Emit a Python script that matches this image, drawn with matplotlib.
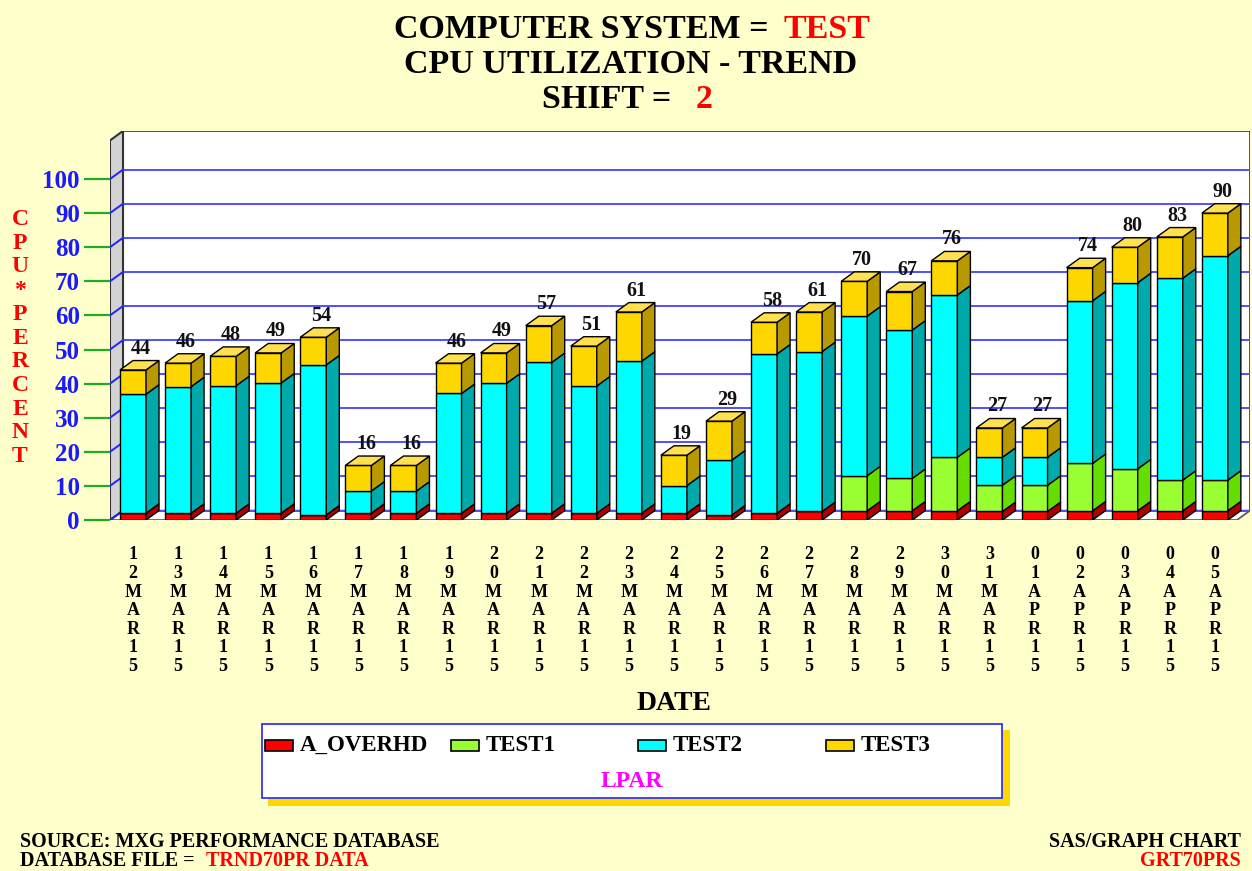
import matplotlib
matplotlib.use("Agg")
import matplotlib.pyplot as plt
from matplotlib.patches import Polygon, Rectangle

# Chart data
dates = ["12MAR15", "13MAR15", "14MAR15", "15MAR15", "16MAR15", "17MAR15", "18MAR15",
         "19MAR15", "20MAR15", "21MAR15", "22MAR15", "23MAR15", "24MAR15", "25MAR15",
         "26MAR15", "27MAR15", "28MAR15", "29MAR15", "30MAR15", "31MAR15", "01APR15",
         "02APR15", "03APR15", "04APR15", "05APR15"]
overhd = [2.0, 2.0, 2.0, 2.0, 1.5, 2.0, 2.0, 2.0, 2.0, 2.0, 2.0, 2.0, 2.0, 1.5,
          2.0, 2.5, 2.7, 2.7, 2.7, 2.5, 2.5, 2.7, 2.7, 2.7, 2.7]
test1 = [0, 0, 0, 0, 0, 0, 0, 0, 0, 0, 0, 0, 0, 0, 0, 0,
         10.3, 9.5, 15.7, 7.7, 7.7, 13.9, 12.3, 9.0, 9.0]
test2 = [34.9, 37.1, 37.4, 38.2, 44.0, 6.5, 6.5, 35.1, 38.1, 44.2, 37.3, 44.6, 8.1,
         16.1, 46.7, 46.9, 46.8, 43.5, 47.6, 8.2, 8.2, 47.7, 54.6, 59.2, 65.8]
test3 = [7.1, 6.9, 8.6, 8.8, 8.1, 7.5, 7.5, 8.9, 8.9, 10.8, 11.7, 14.4, 8.9, 11.4,
         9.3, 11.6, 10.2, 11.3, 10.0, 8.6, 8.6, 9.7, 10.4, 12.1, 12.5]
series_names = ["A_OVERHD", "TEST1", "TEST2", "TEST3"]
yticks = [0, 10, 20, 30, 40, 50, 60, 70, 80, 90, 100]

# colours: front, side, top
colors = [("#FF0000", "#B00000", "#FF5050"),
          ("#99FF33", "#66DD00", "#BBFF77"),
          ("#00FFFF", "#00AAAA", "#80FFFF"),
          ("#FFD700", "#B89A00", "#FFE050")]

BG = "#FFFFCC"
SERIF = "Liberation Serif"
W, H = 1252, 871

fig = plt.figure(figsize=(W / 100, H / 100), dpi=100, facecolor=BG)


def fx(px):
    return px / W


def fy(py):
    return 1 - py / H


# main axes: front plane, value 0 at the front floor edge
ax = fig.add_axes([fx(110), fy(520), fx(1250) - fx(110), fy(131) - fy(520)])
xl, xr = -0.51, 24.78
ytop = 114.08
ax.set_xlim(xl, xr)
ax.set_ylim(0, ytop)
ax.patch.set_visible(False)
for s in ax.spines.values():
    s.set_visible(False)

dx, dy = 0.2885, 2.76   # depth offset in data units
bw = 0.577

# walls
ax.add_patch(Rectangle((xl + dx, dy), xr - xl - dx, ytop - dy, facecolor="white",
                       edgecolor="#333333", lw=1.2, zorder=0))
ax.add_patch(Polygon([(xl, 0), (xr - dx, 0), (xr, dy), (xl + dx, dy)], closed=True,
                     facecolor="white", edgecolor="#555555", lw=1.2, zorder=0.5))
ax.add_patch(Polygon([(xl, 0), (xl, ytop - dy), (xl + dx, ytop), (xl + dx, dy)], closed=True,
                     facecolor="#D3D3D3", edgecolor="#333333", lw=1.5, zorder=0.5))
for v in yticks:
    ax.plot([xl + dx, xr], [v + dy, v + dy], color="#5050FF", lw=1.4, zorder=0.6)
    ax.plot([xl, xl + dx], [v, v + dy], color="#2222FF", lw=1.4, zorder=0.6)

# stacked 3-D bars
x = list(range(len(dates)))
series = [overhd, test1, test2, test3]
bottoms = [0.0] * len(dates)
for k, vals in enumerate(series):
    front, side, top = colors[k]
    ax.bar(x, vals, width=bw, bottom=bottoms, color=front, edgecolor="black",
           lw=1.0, zorder=3)
    for i, v in enumerate(vals):
        if v <= 0:
            continue
        b = bottoms[i]
        xr_i = x[i] + bw / 2
        ax.add_patch(Polygon([(xr_i, b), (xr_i + dx, b + dy), (xr_i + dx, b + v + dy),
                              (xr_i, b + v)], closed=True, facecolor=side,
                             edgecolor="black", lw=1.0, zorder=3))
    bottoms = [b + v for b, v in zip(bottoms, vals)]

ftop = colors[3][2]
for i, t in enumerate(bottoms):
    xl_i = x[i] - bw / 2
    ax.add_patch(Polygon([(xl_i, t), (xl_i + dx, t + dy), (xl_i + bw + dx, t + dy),
                          (xl_i + bw, t)], closed=True, facecolor=ftop,
                         edgecolor="black", lw=1.0, zorder=3))
    ax.text(x[i] + dx * 0.6, t + dy + 0.6, str(int(round(t))), ha="center", va="bottom",
            fontsize=14.5, fontweight="bold", family=SERIF, color="#111111", zorder=4)

# axes ticks
ax.set_yticks(yticks)
ax.set_yticklabels([str(v) for v in yticks], family=SERIF, fontweight="bold")
ax.tick_params(axis="y", length=18.7, width=1.6, color="#22AA22", pad=3,
               labelcolor="#1a1aff", labelsize=18)
ax.set_xticks(x)
ax.set_xticklabels(["\n".join(d) for d in dates], family=SERIF, fontweight="bold",
                   va="top")
ax.tick_params(axis="x", length=0, pad=19, labelsize=13)
for lbl in ax.get_xticklabels():
    lbl.set_linespacing(1.12)

# titles
tkw = dict(fontsize=24.5, fontweight="bold", family=SERIF, va="center")
fig.text(fx(768), fy(30), "COMPUTER SYSTEM =", ha="right", color="black", **tkw)
fig.text(fx(783), fy(30), "TEST", ha="left", color="red", **tkw)
fig.text(fx(631), fy(64.5), "CPU UTILIZATION - TREND", ha="center", color="black", **tkw)
fig.text(fx(671), fy(99), "SHIFT =", ha="right", color="black", **tkw)
fig.text(fx(696), fy(99), "2", ha="left", color="red", **tkw)

# y label (stacked letters)
fig.text(fx(20), fy(338), "\n".join("CPU*PERCENT"), ha="center", va="center",
         fontsize=17, fontweight="bold", family=SERIF, color="red", linespacing=1.17)

# x label
fig.text(fx(674), fy(703), "DATE", ha="center", va="center", fontsize=20,
         fontweight="bold", family=SERIF, color="black")

# legend box with shadow
fig.patches.append(Rectangle((fx(268), fy(806)), fx(1010) - fx(268), fy(730) - fy(806),
                             transform=fig.transFigure, facecolor="#FFD700",
                             edgecolor="none", zorder=1))
fig.patches.append(Rectangle((fx(262), fy(798)), fx(1002) - fx(262), fy(724) - fy(798),
                             transform=fig.transFigure, facecolor="white",
                             edgecolor="#2222FF", lw=1.2, zorder=2))
leg_sw = [265, 451, 638, 826]
for k, name in enumerate(series_names):
    fig.patches.append(Rectangle((fx(leg_sw[k]), fy(751)), fx(28), fy(740) - fy(751),
                                 transform=fig.transFigure, facecolor=colors[k][0],
                                 edgecolor="black", lw=1.2, zorder=3))
    fig.text(fx(leg_sw[k] + 35), fy(745), name, ha="left", va="center", fontsize=16.5,
             fontweight="bold", family=SERIF, color="black", zorder=4)
fig.text(fx(632), fy(781), "LPAR", ha="center", va="center", fontsize=17,
         fontweight="bold", family=SERIF, color="#FF00FF", zorder=4)

# footnotes
nkw = dict(fontsize=14.5, fontweight="bold", family=SERIF, va="center")
fig.text(fx(20), fy(842), "SOURCE: MXG PERFORMANCE DATABASE", ha="left", color="black", **nkw)
fig.text(fx(20), fy(861), "DATABASE FILE =", ha="left", color="black", **nkw)
fig.text(fx(206), fy(861), "TRND70PR DATA", ha="left", color="red", **nkw)
fig.text(fx(1241), fy(842), "SAS/GRAPH CHART", ha="right", color="black", **nkw)
fig.text(fx(1241), fy(861), "GRT70PRS", ha="right", color="red", **nkw)

fig.savefig("out.png", dpi=100, facecolor=BG)
